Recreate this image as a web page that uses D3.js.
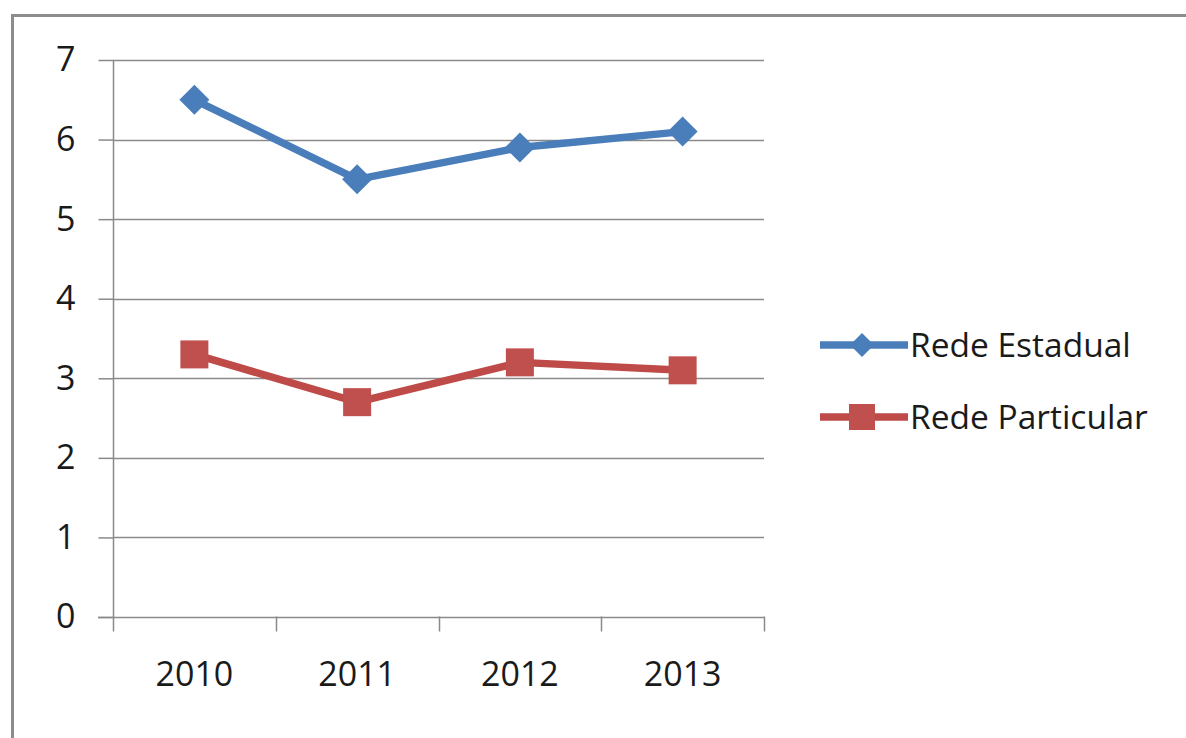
<!DOCTYPE html>
<html>
<head>
<meta charset="utf-8">
<script src="https://cdn.jsdelivr.net/npm/d3@7"></script>
<style>
  html, body { margin: 0; padding: 0; background: #fff; }
  svg { display: block; }
  text { font-family: "Open Sans", "DejaVu Sans", sans-serif; fill: #1a1a1a; }
</style>
</head>
<body>
<svg id="chart" width="1186" height="738"></svg>
<script>
const categories = ["2010", "2011", "2012", "2013"];
const estadual = [6.5, 5.5, 5.9, 6.1];
const particular = [3.3, 2.7, 3.2, 3.1];
const seriesNames = ["Rede Estadual", "Rede Particular"];
const yTicks = [0, 1, 2, 3, 4, 5, 6, 7];

const series = [
  { name: seriesNames[0], values: estadual, color: "#4a7ebb", marker: "diamond" },
  { name: seriesNames[1], values: particular, color: "#be4b48", marker: "square" }
];

const svg = d3.select("#chart");

// outer frame (cropped at right and bottom)
svg.append("rect")
  .attr("x", 12.5).attr("y", 15.5)
  .attr("width", 1200).attr("height", 800)
  .attr("fill", "none").attr("stroke", "#8c8c8c").attr("stroke-width", 3);

const plot = { left: 113, right: 764, top: 60, bottom: 617 };

const x = d3.scaleBand().domain(categories).range([plot.left, plot.right]).padding(0);
const y = d3.scaleLinear().domain([0, 7]).range([plot.bottom, plot.top]);

// gridlines
svg.append("g").selectAll("line").data(yTicks.filter(d => d > 0)).join("line")
  .attr("x1", plot.left).attr("x2", plot.right)
  .attr("y1", d => Math.round(y(d)) + 0.5).attr("y2", d => Math.round(y(d)) + 0.5)
  .attr("stroke", "#8a8a8a").attr("stroke-width", 1.5);

// y axis
const yAxis = svg.append("g")
  .attr("transform", `translate(${plot.left + 0.5},0)`)
  .call(d3.axisLeft(y).tickValues(yTicks).tickSize(15).tickPadding(23).tickFormat(d3.format("d")));
yAxis.select(".domain").attr("stroke", "#8a8a8a").attr("stroke-width", 1.5).attr("d", `M0,${plot.top}V${plot.bottom}`);
yAxis.selectAll(".tick line").attr("stroke", "#8a8a8a").attr("stroke-width", 1.5);
yAxis.selectAll(".tick text").style("font-size", "34px").style("font-family", "Open Sans").attr("fill", "#1a1a1a");

// x axis
const xAxis = svg.append("g")
  .attr("transform", `translate(0,${plot.bottom + 0.5})`)
  .call(d3.axisBottom(x).tickSize(0).tickPadding(44));
xAxis.select(".domain").attr("stroke", "#8a8a8a").attr("stroke-width", 1.5).attr("d", `M${plot.left - 15},0H${plot.right}`);
xAxis.selectAll(".tick text").style("font-size", "34px").style("font-family", "Open Sans").attr("fill", "#1a1a1a");
// category boundary ticks
const bounds = categories.map(c => x(c)).concat([x(categories[categories.length - 1]) + x.bandwidth()]);
xAxis.append("g").selectAll("line").data(bounds).join("line")
  .attr("x1", d => Math.round(d) + 0.5).attr("x2", d => Math.round(d) + 0.5)
  .attr("y1", -1).attr("y2", 14)
  .attr("stroke", "#8a8a8a").attr("stroke-width", 1.5);

const cx = (i) => x(categories[i]) + x.bandwidth() / 2;
const line = d3.line().x((d, i) => cx(i)).y(d => y(d));

function drawMarker(g, type, color) {
  if (type === "diamond") {
    g.append("path").attr("d", "M0,-15L15,0L0,15L-15,0Z").attr("fill", color);
  } else {
    g.append("rect").attr("x", -14).attr("y", -14).attr("width", 28).attr("height", 28).attr("fill", color);
  }
}

series.forEach(s => {
  svg.append("path").datum(s.values)
    .attr("d", line).attr("fill", "none")
    .attr("stroke", s.color).attr("stroke-width", 7.5).attr("stroke-linejoin", "round");
  s.values.forEach((v, i) => {
    const g = svg.append("g").attr("transform", `translate(${cx(i)},${y(v)})`);
    drawMarker(g, s.marker, s.marker === "square" ? "#c0504d" : "#4a7ebb");
  });
});

// legend
const legendY = [345, 417];
series.forEach((s, i) => {
  const g = svg.append("g").attr("transform", `translate(0,${legendY[i]})`);
  g.append("line").attr("x1", 820).attr("x2", 908).attr("y1", 0).attr("y2", 0)
    .attr("stroke", s.color).attr("stroke-width", 7.5);
  const m = g.append("g").attr("transform", `translate(862,0)`);
  if (s.marker === "diamond") {
    m.append("path").attr("d", "M0,-12L12,0L0,12L-12,0Z").attr("fill", "#4a7ebb");
  } else {
    m.append("rect").attr("x", -13).attr("y", -13).attr("width", 26).attr("height", 26).attr("fill", "#c0504d");
  }
  g.append("text").attr("x", 910).attr("y", 0).attr("dy", "0.35em")
    .style("font-size", "33.5px").text(s.name);
});
</script>
</body>
</html>
